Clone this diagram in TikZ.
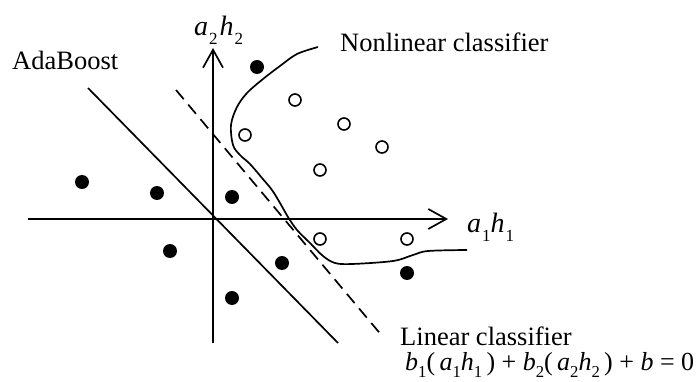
\documentclass[tikz,border=0pt]{standalone}
\usepackage{fontspec}
\setmainfont{Liberation Serif}
\usetikzlibrary{arrows.meta}
\newcommand{\lsub}[1]{\raisebox{-0.3em}{\fontsize{17}{17}\selectfont #1}}
\newcommand{\isub}[2]{{\itshape #1}\kern1pt\lsub{#2}}
\newcommand{\fsub}[2]{{\itshape #1}\lsub{#2}}
\begin{document}
\begin{tikzpicture}[x=1pt,y=-1pt,
  axis/.style={line width=1.7pt,-{Straight Barb[length=18pt,width=20pt,line width=1.7pt]}},
  sepline/.style={line width=1.7pt},
  dashline/.style={line width=1.7pt,dash pattern=on 12pt off 7pt},
  fdot/.style={circle,fill=black,inner sep=0pt,minimum size=14pt},
  odot/.style={circle,draw=black,line width=1.6pt,fill=white,inner sep=0pt,minimum size=12pt},
  lbl/.style={inner sep=0pt,anchor=base west,font=\fontsize{26.5}{30}\selectfont},
  mlbl/.style={inner sep=0pt,anchor=base west,font=\fontsize{28}{30}\selectfont}]
\useasboundingbox (0,0) rectangle (696,382);
% axes
\coordinate (yb) at (213,343);
\coordinate (yt) at (213,48);
\coordinate (xl) at (28,219);
\coordinate (xr) at (448,219);
\draw[axis] (yb) -- (yt);
\draw[axis] (xl) -- (xr);
% AdaBoost line
\coordinate (as) at (88,88);
\coordinate (ae) at (338,343);
\draw[sepline] (as) -- (ae);
% linear classifier (dashed)
\coordinate (ls) at (176,90);
\coordinate (le) at (383,337);
\draw[dashline] (ls) -- (le);
% nonlinear classifier
\draw[line width=1.7pt] plot[smooth,tension=0.55] coordinates {
 (318,47) (297,54) (280,66) (263,79) (247,93) (237,107) (231,125) (233,145)
 (240,155) (250,164) (262,178) (272,190) (280,203) (288,217) (297,230)
 (310,243) (323,256) (335,263) (352,264) (393,261) (413,255) (428,251) (467,250)};
% filled dots
\node[fdot] (f1) at (257,67) {};
\node[fdot] (f2) at (82,182) {};
\node[fdot] (f3) at (157,193) {};
\node[fdot] (f4) at (232,197) {};
\node[fdot] (f5) at (170,251) {};
\node[fdot] (f6) at (282,263) {};
\node[fdot] (f7) at (232,298) {};
\node[fdot] (f8) at (407,273) {};
% open dots
\node[odot] (o1) at (295,100) {};
\node[odot] (o2) at (245,135) {};
\node[odot] (o3) at (344,124) {};
\node[odot] (o4) at (382,147) {};
\node[odot] (o5) at (320,170) {};
\node[odot] (o6) at (320,239) {};
\node[odot] (o7) at (407,239) {};
% labels
\node[lbl] (ada) at (12,70) {AdaBoost};
\node[lbl] (nlc) at (340,52) {Nonlinear classifier};
\node[lbl] (lc) at (400,345) {Linear classifier};
\node[mlbl] (ya) at (194,36) {\isub{a}{2}\kern2pt\isub{h}{2}};
\node[mlbl] (xa) at (467,233) {\isub{a}{1}\isub{h}{1}};
\node[lbl] (eq) at (405,370) {\resizebox{289pt}{!}{\fsub{b}{1}(\,\fsub{a}{1}\fsub{h}{1}\,) + \fsub{b}{2}(\,\fsub{a}{2}\fsub{h}{2}\,) + {\itshape b} = 0}};
\end{tikzpicture}
\end{document}
